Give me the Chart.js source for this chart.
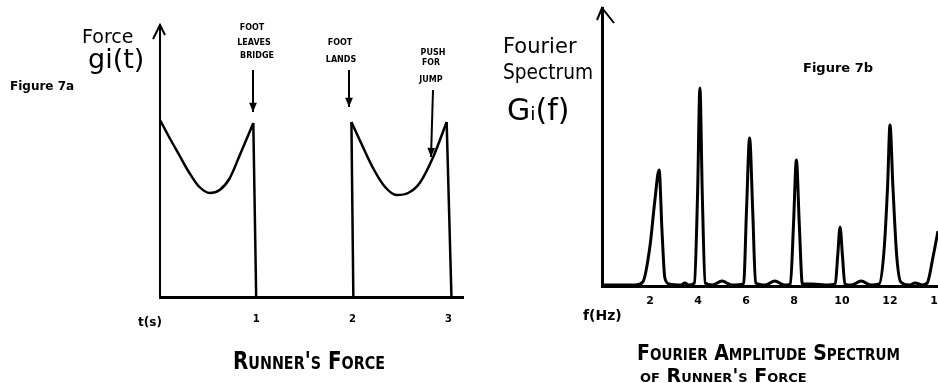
<!DOCTYPE html>
<html>
<head>
<meta charset="utf-8">
<script src="https://cdn.jsdelivr.net/npm/chart.js@4.4.0/dist/chart.umd.min.js"></script>
<style>
    html, body { margin: 0; padding: 0; background: #fff; overflow: hidden; width: 938px; height: 383px; }
    #forceWrap { position: absolute; left: 0; top: 0; }
    #spectrumWrap { position: absolute; left: 470px; top: 0; }
</style>
</head>
<body>
<div id="forceWrap"><canvas id="forceChart" width="470" height="383"></canvas></div>
<div id="spectrumWrap"><canvas id="spectrumChart" width="490" height="383"></canvas></div>
<script>
// Figure 7a - runner's force g(t), arbitrary units
const stanceOneTime  = [0, 0.10, 0.20, 0.30, 0.40, 0.52, 0.62, 0.72, 0.83, 0.97];
const stanceOneForce = [1.77, 1.59, 1.42, 1.25, 1.11, 1.04, 1.07, 1.18, 1.42, 1.74];
const stanceTwoTime  = [1.99, 2.10, 2.22, 2.34, 2.46, 2.58, 2.70, 2.84, 2.98];
const stanceTwoForce = [1.75, 1.52, 1.28, 1.10, 1.02, 1.04, 1.14, 1.40, 1.75];
// the straight drops / rises where the foot leaves or lands (null = gap)
const edgeTime  = [0.97, 1.00, null, 2.01, 1.99, null, 2.98, 3.03];
const edgeForce = [1.74, 0, null, 0, 1.75, null, 1.75, 0];
const timeTicks = [1, 2, 3];

// Figure 7b - Fourier amplitude spectrum G(f)
const spectrumFreq = [0, 1.4, 1.7, 2.0, 2.2, 2.38, 2.5, 2.62, 2.8, 3.3, 3.45, 3.6,
    3.85, 3.98, 4.08, 4.18, 4.3, 4.6, 5.0, 5.4, 5.9, 6.02, 6.15, 6.28, 6.4, 6.8, 7.2, 7.6,
    7.85, 7.98, 8.1, 8.22, 8.35, 8.8, 9.3, 9.72, 9.82, 9.92, 10.02, 10.12, 10.4, 10.8, 11.2,
    11.55, 11.75, 11.9, 12.0, 12.12, 12.28, 12.45, 12.8, 13.05, 13.35, 13.55, 13.8, 14.0];
const spectrumAmp  = [0.01, 0.01, 0.04, 0.40, 0.85, 1.16, 0.55, 0.08, 0.02, 0.01, 0.03, 0.01,
    0.03, 0.90, 1.98, 0.90, 0.03, 0.01, 0.05, 0.01, 0.02, 0.75, 1.48, 0.75, 0.03, 0.01, 0.05, 0.01,
    0.02, 0.62, 1.26, 0.62, 0.02, 0.02, 0.01, 0.02, 0.30, 0.59, 0.30, 0.02, 0.01, 0.05, 0.01,
    0.02, 0.35, 1.00, 1.61, 1.00, 0.30, 0.04, 0.01, 0.03, 0.01, 0.03, 0.30, 0.55];
const freqTicks = [2, 4, 6, 8, 10, 12, 14];

const FONT = '"DejaVu Sans", sans-serif';
const toPoints = (xs, ys) => xs.map((x, i) => ({ x: x, y: ys[i] }));

const text = (ctx, str, x, y, font, align, maxWidth) => {
    ctx.save();
    ctx.font = font;
    ctx.fillStyle = '#000';
    ctx.textAlign = align || 'left';
    ctx.textBaseline = 'alphabetic';
    if (maxWidth) ctx.fillText(str, x, y, maxWidth); else ctx.fillText(str, x, y);
    ctx.restore();
};

const arrow = (ctx, x1, y1, x2, y2, head) => {
    ctx.save();
    ctx.strokeStyle = '#000';
    ctx.fillStyle = '#000';
    ctx.lineWidth = 2;
    ctx.beginPath();
    ctx.moveTo(x1, y1);
    ctx.lineTo(x2, y2);
    ctx.stroke();
    const a = Math.atan2(y2 - y1, x2 - x1);
    ctx.beginPath();
    ctx.moveTo(x2, y2);
    ctx.lineTo(x2 - head * Math.cos(a - 0.4), y2 - head * Math.sin(a - 0.4));
    ctx.lineTo(x2 - head * Math.cos(a + 0.4), y2 - head * Math.sin(a + 0.4));
    ctx.closePath();
    ctx.fill();
    ctx.restore();
};

// open arrow tip on top of the y axis
const axisTip = (ctx, x, y, dl, dr) => {
    ctx.save();
    ctx.strokeStyle = '#000';
    ctx.lineWidth = 2;
    ctx.beginPath();
    ctx.moveTo(x + dl[0], y + dl[1]);
    ctx.lineTo(x, y);
    ctx.lineTo(x + dr[0], y + dr[1]);
    ctx.stroke();
    ctx.restore();
};

const forceNotes = {
    id: 'forceNotes',
    afterDraw(chart) {
        const ctx = chart.ctx;
        const area = chart.chartArea;
        axisTip(ctx, area.left, area.top, [-7, 14], [5, 10]);
        text(ctx, 'Force', 82, 43, '19px ' + FONT, 'left', 66);
        text(ctx, 'gi(t)', 88, 68, '27px ' + FONT, 'left', 60);
        text(ctx, 'Figure 7a', 10, 90, 'bold 12px ' + FONT, 'left', 90);

        text(ctx, 'FOOT', 252, 30, 'bold 8px ' + FONT, 'center', 28);
        text(ctx, 'LEAVES', 254, 45, 'bold 8px ' + FONT, 'center', 40);
        text(ctx, 'BRIDGE', 257, 58, 'bold 8px ' + FONT, 'center', 48);
        arrow(ctx, 253, 70, 253, 112, 10);

        text(ctx, 'FOOT', 340, 45, 'bold 8px ' + FONT, 'center', 26);
        text(ctx, 'LANDS', 341, 62, 'bold 8px ' + FONT, 'center', 32);
        arrow(ctx, 349, 70, 349, 107, 10);

        text(ctx, 'PUSH', 433, 55, 'bold 8px ' + FONT, 'center', 30);
        text(ctx, 'FOR', 431, 65, 'bold 8px ' + FONT, 'center', 18);
        text(ctx, 'JUMP', 431, 82, 'bold 8px ' + FONT, 'center', 28);
        arrow(ctx, 433, 90, 431, 157, 10);

        text(ctx, 't(s)', 150, 326, 'bold 12px ' + FONT, 'center', 24);
        text(ctx, "Runner's Force", 309, 369, 'small-caps bold 25px ' + FONT, 'center', 152);
    }
};

const spectrumNotes = {
    id: 'spectrumNotes',
    afterDraw(chart) {
        const ctx = chart.ctx;
        const area = chart.chartArea;
        axisTip(ctx, area.left, area.top, [-5, 12], [12, 15]);
        text(ctx, 'Fourier', 33, 53, '21px ' + FONT, 'left', 84);
        text(ctx, 'Spectrum', 33, 79, '21px ' + FONT, 'left', 90);
        text(ctx, 'G\u1D62(f)', 37, 120, '30px ' + FONT, 'left', 74);
        text(ctx, 'Figure 7b', 333, 72, 'bold 13px ' + FONT, 'left', 92);
        text(ctx, 'f(Hz)', 113, 320, 'bold 14px ' + FONT, 'left', 47);
        text(ctx, 'Fourier Amplitude Spectrum', 167, 360, 'small-caps bold 21px ' + FONT, 'left', 263);
        text(ctx, "of Runner's Force", 170, 382, 'small-caps bold 19px ' + FONT, 'left', 170);
    }
};

const axisStyle = (tickValues, tickPadding, size) => ({
    type: 'linear',
    grid: { display: false, drawTicks: false },
    border: { display: true, color: '#000', width: 3 },
    afterBuildTicks: scale => { scale.ticks = tickValues.map(v => ({ value: v })); },
    afterFit: scale => { scale.height = 30; },
    ticks: { color: '#000', padding: tickPadding, font: { family: FONT, size: size, weight: 'bold' } }
});

const hiddenY = (max, width) => ({
    type: 'linear',
    min: 0,
    max: max,
    grid: { display: false, drawTicks: false },
    border: { display: true, color: '#000', width: width },
    ticks: { display: false },
    afterFit: scale => { scale.width = 0; }
});

new Chart(document.getElementById('forceChart'), {
    type: 'line',
    data: {
        datasets: [
            { data: toPoints(stanceOneTime, stanceOneForce), cubicInterpolationMode: 'monotone' },
            { data: toPoints(stanceTwoTime, stanceTwoForce), cubicInterpolationMode: 'monotone' },
            { data: toPoints(edgeTime, edgeForce), tension: 0 }
        ].map(d => Object.assign(d, { borderColor: '#000', borderWidth: 2.5, pointRadius: 0, fill: false }))
    },
    options: {
        responsive: false,
        animation: false,
        layout: { padding: { left: 160, right: 7, top: 25, bottom: 56 } },
        plugins: { legend: { display: false }, tooltip: { enabled: false } },
        scales: {
            x: Object.assign(axisStyle(timeTicks, 16, 10), { min: 0, max: 3.15 }),
            y: hiddenY(2.72, 2)
        }
    },
    plugins: [forceNotes]
});

new Chart(document.getElementById('spectrumChart'), {
    type: 'line',
    data: {
        datasets: [{
            data: toPoints(spectrumFreq, spectrumAmp),
            borderColor: '#000',
            borderWidth: 3,
            pointRadius: 0,
            fill: false,
            cubicInterpolationMode: 'monotone'
        }]
    },
    options: {
        responsive: false,
        animation: false,
        layout: { padding: { left: 132, right: 22, top: 8, bottom: 67 } },
        plugins: { legend: { display: false }, tooltip: { enabled: false } },
        scales: {
            x: Object.assign(axisStyle(freqTicks, 9, 11), { min: 0, max: 14 }),
            y: hiddenY(2.78, 3)
        }
    },
    plugins: [spectrumNotes]
});
</script>
</body>
</html>
